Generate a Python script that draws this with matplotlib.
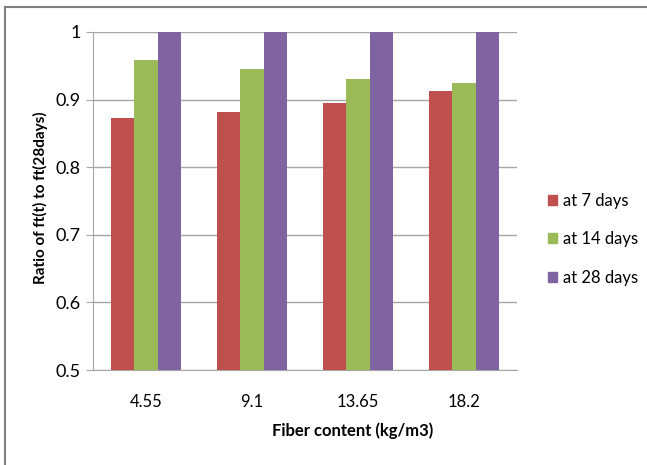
import matplotlib.pyplot as plt
from matplotlib.lines import Line2D
from matplotlib.ticker import FuncFormatter
import numpy as np

plt.rcParams['font.family'] = ['Lato', 'DejaVu Sans']

fiber = ["4.55", "9.1", "13.65", "18.2"]
day7 = [0.873, 0.881, 0.895, 0.913]
day14 = [0.958, 0.945, 0.931, 0.925]
day28 = [1.0, 1.0, 1.0, 1.0]
series_names = ["at 7 days", "at 14 days", "at 28 days"]
colors = ["#C0504D", "#9BBB59", "#8064A2"]

W, H = 647, 465
fig = plt.figure(figsize=(W / 100, H / 100), dpi=100)
ax = fig.add_axes([93 / W, (H - 370) / H, (517 - 93) / W, (370 - 32) / H])

x = np.arange(len(fiber))
bw = 0.222
for i, (vals, name, c) in enumerate(zip([day7, day14, day28], series_names, colors)):
    ax.bar(x + (i - 1) * bw, vals, width=bw, color=c, label=name, zorder=3)

ax.set_ylim(0.5, 1.0)
ax.set_xlim(-0.5, len(fiber) - 0.5)
ax.set_yticks([0.5, 0.6, 0.7, 0.8, 0.9, 1.0])
ax.yaxis.set_major_formatter(FuncFormatter(lambda v, p: f"{v:g}"))
ax.set_xticks(x)
ax.set_xticklabels(fiber)
ax.grid(axis='y', color='#A6A6A6', linewidth=1, zorder=0)
for s in ['top', 'right']:
    ax.spines[s].set_visible(False)
for s in ['left', 'bottom']:
    ax.spines[s].set_color('#A6A6A6')
ax.tick_params(axis='y', length=5, color='#A6A6A6', labelsize=13, pad=4)
ax.tick_params(axis='x', length=0, labelsize=12, pad=17)

fig.text(40 / W, 1 - 198 / H, "Ratio of ft(t) to ft(28days)", rotation=90,
         ha='center', va='center', fontsize=11, fontweight='bold')
fig.text(353 / W, 1 - 431 / H, "Fiber content (kg/m3)", ha='center',
         va='center', fontsize=12, fontweight='bold')

handles = [plt.Rectangle((0, 0), 1, 1, color=c) for c in colors]
fig.legend(handles, series_names, loc='center left',
           bbox_to_anchor=(533 / W, 1 - 239 / H), frameon=False,
           fontsize=12, handlelength=0.55, handleheight=0.55,
           handletextpad=0.35, labelspacing=1.35)

fig.add_artist(Line2D([4.5 / W, 4.5 / W], [0, 1 - 7 / H], transform=fig.transFigure,
                      color='#808080', linewidth=1.5))
fig.add_artist(Line2D([4.5 / W, 1], [1 - 7 / H, 1 - 7 / H], transform=fig.transFigure,
                      color='#808080', linewidth=1.5))

fig.savefig("out.png", dpi=100)
